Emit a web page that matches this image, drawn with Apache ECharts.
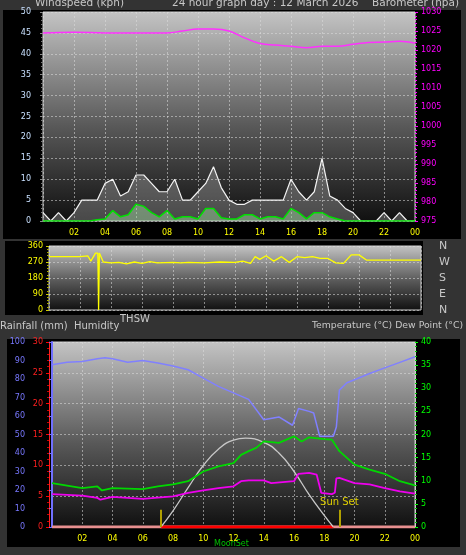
<!DOCTYPE html>
<html><head><meta charset="utf-8">
<script src="https://cdn.jsdelivr.net/npm/echarts@6/dist/echarts.min.js"></script>
<style>html,body{margin:0;padding:0;background:#333;}#c{width:466px;height:555px;}</style>
</head><body><div id="c"></div>
<script>
// ---- data ----
const halfHours = Array.from({length:49},(_,i)=>i/2);
const windGust = [2,0,2,0,2,5,5,5,9,10,6,7,11,11,9,7,7,10,5,5,7,9,13,8,5,4,4,5,5,5,5,5,10,7,5,7,15,6,5,3,2,0,0,0,2,0,2,0,0];
const windAvg  = [0,0,0,0,0,0,0,0.3,0.5,2.5,1,1.5,4,3.5,2,1,2.5,0.5,1,1,0.5,3,3,0.8,0.5,0.5,1.5,1.5,0.5,1,1,0.5,3,2,0.5,2,2,1,0.5,0,0,0,0,0,0,0,0,0,0];
const baroHours = [0,2,4,6,8,9,10,11,12,13,14,15,16,17,18,19,20,21,22,23,24];
const baro = [1024.5,1024.7,1024.5,1024.5,1024.5,1025,1025.5,1025.5,1025,1023.2,1021.7,1021.3,1021,1020.6,1021,1021,1021.5,1022,1022.1,1022.3,1021.8];
const dirHours = [0,2,2.5,2.7,3.0,3.15,3.2,3.25,3.5,3.6,4,4.5,5,5.5,6,6.5,7,8,8.5,9,10,11,12,12.5,13,13.3,13.6,14,14.5,15,15.5,16,16.5,17,17.5,18,18.5,19,19.5,20,20.5,24];
const windDir = [300,300,305,275,320,320,0,320,270,262,265,268,260,270,262,272,265,268,265,268,265,270,268,275,262,300,285,305,275,300,268,300,295,300,290,290,265,262,310,310,280,280];
const humHours = [0,1,2,3,3.5,4,5,6,7,8,9,10,11,12,13,14,15,15.9,16.3,17,17.3,17.7,18.6,18.8,19,19.5,20,21,22,23,24];
const humidity = [87.7,89,89.5,91,91.5,91,89,90,88.6,87,85,80.5,76,72.5,69,58,59.5,55,64,62.5,61.6,49,49,54,74,78,79.6,83,86,89,92];
const tempHours = [0,2,3,3.3,4,6,7,8,9,10,11,12,12.5,13,13.5,14,15,16,16.5,17,18,18.5,19,20,21,22,23,24];
const temperature = [9.5,8.4,8.8,7.9,8.4,8.2,8.8,9.2,9.9,12,13.1,13.8,15.6,16.4,17.1,18.5,18.2,19.6,18.5,19.4,19,18.9,16.4,13.5,12.4,11.5,9.9,9];
const dewHours = [0,2,3,3.2,4,6,8,9,10,11,12,12.5,13,14,14.5,16,16.3,17,17.5,17.8,18.5,18.7,18.8,19,20,21,22,23,24];
const dewPoint = [7.1,6.8,6.3,5.9,6.5,6.1,6.6,7.4,7.9,8.4,8.8,9.9,10.1,10.1,9.5,9.9,11.5,11.7,11.3,7.4,7.1,7.4,10.5,10.6,9.5,9.2,8.4,7.7,7.2];
const thswHours = [7.2,8,9,10,11,12,12.8,14,15,16,17,18,18.6];
const thsw = [0,3.5,8.5,13.3,16.8,18.8,19.2,18.3,16,12,7,2.5,0];
const rainHours = [0,24];
const rain = [0,0];
const daylight = [[7.2,0],[18.6,0]];
const sunRise = 7.2, sunSet = 19.0;
const xTicks = ['','02','04','06','08','10','12','14','16','18','20','22','00'];
const dirLabels = {0:'N',90:'E',180:'S',270:'W',360:'N'};

const zip=(a,b)=>a.map((x,i)=>[x,b[i]]);
const bgGrad = {type:'linear',x:0,y:0,x2:0,y2:1,colorStops:[{offset:0,color:'#c4c4c4'},{offset:0.55,color:'#585858'},{offset:1,color:'#101010'}]};
const gl = {show:true,lineStyle:{color:'rgba(220,220,220,0.55)',type:[2,2],width:1}};
const xFmt = v => xTicks[v/2] || '';
const font='DejaVu Sans';
function xa(gi,show){return {type:'value',gridIndex:gi,min:0,max:24,interval:2,
  axisLine:{show:false},axisTick:{show:false},splitLine:gl,
  axisLabel:{show:show,color:'#ffff00',fontSize:8,fontFamily:font,margin:8,formatter:xFmt}};}

const chart = echarts.init(document.getElementById('c'));
chart.setOption({
  animation:false,
  backgroundColor:'#333',
  graphic:[
    {type:'rect',shape:{x:3,y:10,width:458,height:229},style:{fill:'#000'},z:-10},
    {type:'rect',shape:{x:5,y:241,width:418,height:74},style:{fill:'#000'},z:-10},
    {type:'rect',shape:{x:7,y:339,width:453,height:208},style:{fill:'#000'},z:-10},
    {type:'text',x:35,y:-2,style:{text:'Windspeed (kph)',fill:'#c8c8c8',font:'10.5px '+font}},
    {type:'text',x:172,y:-2,style:{text:'24 hour graph day : 12 March 2026',fill:'#c8c8c8',font:'10.5px '+font}},
    {type:'text',x:372,y:-2,style:{text:'Barometer (hpa)',fill:'#c8c8c8',font:'10.5px '+font}},
    {type:'text',x:120,y:314,style:{text:'THSW',fill:'#c8c8c8',font:'10px '+font}},
    {type:'text',x:0,y:321,style:{text:'Rainfall (mm)  Humidity',fill:'#c8c8c8',font:'10px '+font}},
    {type:'text',x:312,y:321,style:{text:'Temperature (°C) Dew Point (°C)',fill:'#c8c8c8',font:'9.3px '+font}},
    {type:'text',x:214,y:540,style:{text:'MoonSet',fill:'#00c000',font:'8px '+font}}
  ],
  grid:[
    {left:43,top:12,width:372,height:209,show:true,backgroundColor:bgGrad,borderColor:'#ccc',borderWidth:1},
    {left:49,top:246,width:372,height:64,show:true,backgroundColor:bgGrad,borderColor:'#ccc',borderWidth:1},
    {left:52,top:342,width:363,height:185,show:true,backgroundColor:bgGrad,borderColor:'#ccc',borderWidth:1}
  ],
  xAxis:[xa(0,true),xa(1,false),xa(2,true)],
  yAxis:[
    {type:'value',gridIndex:0,position:'left',min:0,max:50,interval:5,axisLine:{show:false},
     axisTick:{show:true,length:3,lineStyle:{color:'#888'}},minorTick:{show:true,splitNumber:5,length:2,lineStyle:{color:'#777'}},
     splitLine:gl,axisLabel:{color:'#c8e0ff',fontSize:8,fontFamily:font,margin:12}},
    {type:'value',gridIndex:0,min:975,max:1030,interval:5,position:'right',axisLine:{show:false},
     axisTick:{show:true,length:3,lineStyle:{color:'#f0f'}},minorTick:{show:true,splitNumber:5,length:2,lineStyle:{color:'#f0f'}},
     splitLine:{show:false},axisLabel:{color:'#ff00ff',fontSize:8,fontFamily:font,margin:6,formatter:v=>String(v)}},
    {type:'value',gridIndex:1,position:'left',min:0,max:360,interval:90,axisLine:{show:false},
     axisTick:{show:true,length:3,lineStyle:{color:'#cc0'}},minorTick:{show:true,splitNumber:5,length:2,lineStyle:{color:'#aa0'}},
     splitLine:gl,axisLabel:{color:'#ffff00',fontSize:8,fontFamily:font,margin:6}},
    {type:'value',gridIndex:1,min:0,max:360,interval:90,position:'right',offset:10,axisLine:{show:false},axisTick:{show:false},
     splitLine:{show:false},axisLabel:{color:'#c8c8c8',fontSize:11,fontFamily:font,formatter:v=>dirLabels[v]}},
    {type:'value',gridIndex:2,position:'left',min:0,max:100,interval:10,offset:22,axisLine:{show:true,lineStyle:{color:'#7070ff',width:2}},
     axisTick:{show:true,length:3,lineStyle:{color:'#7070ff'}},splitLine:{show:false},
     axisLabel:{color:'#7878ff',fontSize:8,fontFamily:font,margin:5}},
    {type:'value',gridIndex:2,position:'left',min:0,max:30,interval:5,offset:3,axisLine:{show:true,lineStyle:{color:'#ff2020',width:1}},
     axisTick:{show:true,length:3,lineStyle:{color:'#f00'}},minorTick:{show:true,splitNumber:5,length:2,lineStyle:{color:'#c00'}},
     splitLine:gl,axisLabel:{color:'#ff2020',fontSize:8,fontFamily:font,margin:6}},
    {type:'value',gridIndex:2,min:0,max:40,interval:5,position:'right',axisLine:{show:true,lineStyle:{color:'#ccc'}},
     axisTick:{show:true,length:3,lineStyle:{color:'#0f0'}},minorTick:{show:true,splitNumber:5,length:2,lineStyle:{color:'#0c0'}},
     splitLine:{show:false},axisLabel:{color:'#00ff00',fontSize:8,fontFamily:font,margin:6}}
  ],
  series:[
    {type:'line',xAxisIndex:0,yAxisIndex:0,data:zip(halfHours,windGust),symbol:'none',
     lineStyle:{color:'#f4f4f4',width:1.2},areaStyle:{color:'rgba(220,220,220,0.4)'}},
    {type:'line',xAxisIndex:0,yAxisIndex:0,data:zip(halfHours,windAvg),symbol:'none',
     lineStyle:{color:'#00e000',width:1.5},areaStyle:{color:'rgba(170,230,170,0.6)'}},
    {type:'line',xAxisIndex:0,yAxisIndex:1,data:zip(baroHours,baro),smooth:0.4,symbol:'none',lineStyle:{color:'#ff30ff',width:1.5}},
    {type:'line',xAxisIndex:1,yAxisIndex:2,data:zip(dirHours,windDir),symbol:'none',lineStyle:{color:'#ffff00',width:1.3}},
    {type:'line',xAxisIndex:2,yAxisIndex:5,data:zip(rainHours,rain),symbol:'none',lineStyle:{color:'#e89090',width:3}},
    {type:'line',xAxisIndex:2,yAxisIndex:5,data:daylight,symbol:'none',lineStyle:{color:'#ff0000',width:3},
     markLine:{symbol:'none',silent:true,lineStyle:{color:'#b0a000',width:2,type:'solid'},label:{show:false},
      data:[[{coord:[sunRise,0]},{coord:[sunRise,2.8]}],
            [{coord:[sunSet,0]},{coord:[sunSet,2.8],label:{show:true,position:'end',formatter:'Sun Set',color:'#e0d000',fontSize:10,fontFamily:font,distance:2}}]]}},
    {type:'line',xAxisIndex:2,yAxisIndex:4,data:zip(humHours,humidity),symbol:'none',lineStyle:{color:'#8080ff',width:1.5}},
    {type:'line',xAxisIndex:2,yAxisIndex:6,data:zip(thswHours,thsw),smooth:0.5,symbol:'none',lineStyle:{color:'#c8c8c8',width:1.3}},
    {type:'line',xAxisIndex:2,yAxisIndex:6,data:zip(tempHours,temperature),symbol:'none',lineStyle:{color:'#00d800',width:1.8}},
    {type:'line',xAxisIndex:2,yAxisIndex:6,data:zip(dewHours,dewPoint),symbol:'none',lineStyle:{color:'#ee00ee',width:1.8}}
  ]
});
</script></body></html>
